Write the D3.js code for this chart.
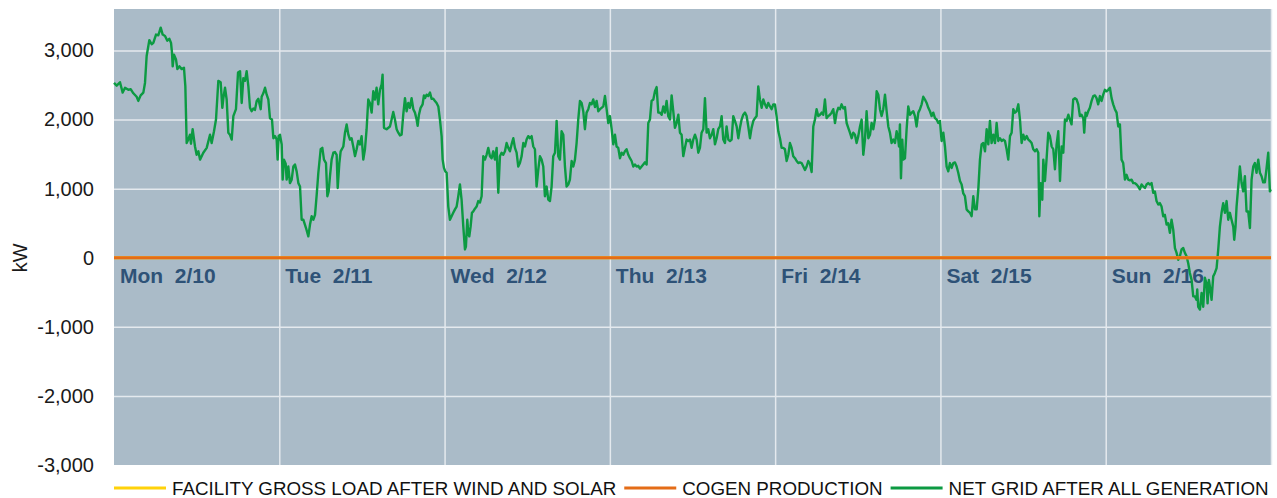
<!DOCTYPE html>
<html>
<head>
<meta charset="utf-8">
<script src="https://d3js.org/d3.v7.min.js"></script>
<style>
  body { margin: 0; background: #fff; }
  svg { display: block; font-family: "Liberation Sans", Arial, sans-serif; }
  .ytick text { font-size: 20px; fill: #1a1a1a; }
  .day-label { font-size: 21px; font-weight: bold; fill: #2e5277; white-space: pre; }
  .legend text { font-size: 18.8px; fill: #111; }
</style>
</head>
<body>
<svg id="chart" width="1277" height="498"></svg>
<script>
// Week of 2/10 - 2/16, hours since Mon 00:00
const dayLabels = ['Mon  2/10', 'Tue  2/11', 'Wed  2/12', 'Thu  2/13', 'Fri  2/14', 'Sat  2/15', 'Sun  2/16'];
const dayStarts = [0, 24, 48, 72, 96, 120, 144, 168];
const yTicks = [-3000, -2000, -1000, 0, 1000, 2000, 3000];
const legendLabels = ['FACILITY GROSS LOAD AFTER WIND AND SOLAR', 'COGEN PRODUCTION', 'NET GRID AFTER ALL GENERATION'];
const seriesColors = ['#ffd20a', '#e46c17', '#0c9a42'];

// facility gross load and cogen both sit on the zero line in this picture
const facilityLoad = [[0, 0], [168, 0]];
const cogen = [[0, 0], [168, 0]];

// net grid after all generation, kW
const netGrid = [
  [0,2530],[0.39,2490],[0.87,2540],[1.26,2390],[1.6,2460],[2.08,2430],[2.42,2440],[2.81,2380],[3.29,2330],[3.53,2270],
  [3.87,2350],[4.26,2390],[4.5,2530],[4.74,2920],[5.13,3150],[5.47,3090],[5.71,3110],[6.1,3230],[6.44,3220],[6.78,3330],
  [7.07,3230],[7.41,3210],[7.74,3140],[8.03,3170],[8.28,3110],[8.42,2970],[8.52,2770],[8.71,2940],[9,2870],[9.2,2730],
  [9.49,2770],[9.83,2730],[10.16,2750],[10.36,2480],[10.55,1660],[10.79,1710],[11.03,1780],[11.18,1650],[11.42,1860],[11.76,1610],
  [12,1490],[12.25,1540],[12.49,1420],[12.97,1520],[13.46,1590],[13.94,1780],[14.18,1660],[14.52,1830],[14.81,2000],[15.15,2560],
  [15.49,2540],[15.73,2170],[15.88,2310],[16.12,2460],[16.36,2290],[16.6,1810],[16.84,1780],[17.09,1710],[17.33,2050],[17.71,2150],
  [18.01,2680],[18.3,2700],[18.54,2240],[18.78,2600],[19.02,2560],[19.26,2700],[19.51,2480],[19.75,2170],[19.99,2120],[20.23,2160],
  [20.47,2140],[20.72,2270],[20.96,2300],[21.3,2150],[21.44,2330],[21.68,2380],[21.93,2460],[22.17,2360],[22.41,2290],[22.65,2020],
  [22.94,2000],[23.14,1730],[23.38,1760],[23.62,1710],[23.76,1420],[23.91,1760],[24.1,1780],[24.35,1640],[24.49,1130],[24.68,1420],
  [24.93,1360],[25.07,1130],[25.31,1320],[25.55,1080],[25.8,1130],[26.04,1320],[26.28,1350],[26.52,1250],[26.77,1080],[27.01,1030],
  [27.25,550],[27.49,550],[27.88,430],[28.22,310],[28.46,480],[28.7,600],[28.94,550],[29.19,620],[29.43,910],[29.67,1230],
  [30.01,1570],[30.25,1590],[30.49,1420],[30.78,1370],[30.98,890],[31.17,960],[31.36,1180],[31.6,1420],[31.85,1520],[32.09,1530],
  [32.33,1490],[32.48,1010],[32.72,1370],[32.91,1540],[33.3,1610],[33.54,1810],[33.78,1930],[34.03,1780],
  [34.26,1710],[34.5,1730],[34.74,1610],[34.99,1470],[35.23,1570],[35.47,1690],[35.71,1640],[35.95,1760],[36.2,1420],[36.44,1570],
  [36.68,1860],[36.92,2290],[37.16,2240],[37.41,2100],[37.65,2410],[37.89,2290],[38.13,2460],[38.37,2220],[38.62,2430],[38.86,2510],
  [39,2650],[39.2,1880],[39.58,1860],[40.07,1900],[40.31,2000],[40.55,2110],[40.79,2000],[41.04,1860],[41.28,1810],[41.52,1770],
  [41.76,1780],[42,2070],[42.25,2310],[42.49,2120],[42.73,2240],[42.97,2170],[43.21,2310],[43.46,2150],[43.7,2100],[43.94,2000],
  [44.09,1910],[44.28,2070],[44.52,2170],[44.81,2220],[45,2350],[45.15,2310],[45.39,2360],[45.63,2340],[45.88,2390],[46.12,2300],
  [46.36,2300],[46.6,2270],[46.84,2240],[47.09,2190],[47.33,2000],[47.57,1760],[47.72,1420],[47.91,1300],[48.1,1250],[48.3,1230],
  [48.54,740],[48.78,550],[49.02,600],[49.26,650],[49.51,700],[49.75,740],[49.99,890],[50.23,1060],[50.47,840],[50.72,450],
  [50.96,120],[51.1,160],[51.3,550],[51.44,360],[51.59,310],[51.78,450],[51.97,650],[52.17,670],[52.41,710],[52.65,740],
  [52.89,820],[53.14,800],[53.38,890],[53.62,1470],[53.86,1420],[54.1,1490],[54.35,1590],[54.59,1470],[54.83,1440],[55.07,1540],
  [55.31,1420],[55.56,1590],[55.8,940],[56.04,1470],[56.28,1520],[56.52,1490],[56.77,1540],[57.01,1660],[57.25,1590],[57.49,1540],
  [57.73,1640],[57.98,1730],[58.22,1590],[58.46,1520],[58.7,1320],[58.94,1370],[59.19,1470],[59.43,1660],[59.67,1610],[59.91,1710],
  [60.15,1760],[60.4,1730],[60.64,1760],[60.88,1610],[61.12,1570],[61.36,1030],[61.61,1280],[61.85,1470],[62.09,1420],[62.33,1320],
  [62.57,890],[62.82,1030],[63.06,840],[63.3,820],[63.54,1030],[63.78,1470],[64.03,1520],[64.27,1980],[64.51,1470],[64.75,1420],
  [64.99,1830],[65.24,1780],[65.48,1320],[65.72,1030],[65.96,1060],[66.2,1130],[66.45,1400],[66.69,1320],[66.93,1420],[67.17,1660],
  [67.41,2000],[67.66,2270],[67.9,2240],[68.14,2120],[68.38,1860],[68.62,2100],[68.87,2150],
  [69.11,2240],[69.35,2220],[69.59,2290],[69.84,2180],[70.08,2270],[70.32,2120],[70.56,2150],[70.8,2170],[71.05,2190],[71.29,2340],
  [71.53,2150],[71.77,1950],[72.01,2050],[72.26,1860],[72.5,1640],[72.74,1780],[72.98,1610],[73.22,1590],[73.47,1440],[73.71,1520],
  [73.95,1490],[74.19,1540],[74.43,1570],[74.68,1490],[74.92,1440],[75.16,1400],[75.4,1320],[75.64,1350],[75.89,1320],[76.13,1330],
  [76.37,1290],[76.61,1320],[76.85,1350],[77.1,1380],[77.34,1350],[77.58,1950],[77.82,2000],[78.06,2270],[78.31,2290],[78.55,2410],
  [78.79,2470],[79.03,2100],[79.27,2100],[79.52,2070],[79.76,2190],[80,2100],[80.24,2270],[80.48,2050],[80.73,2000],[80.97,2350],
  [81.21,2120],[81.45,1880],[81.69,1950],[81.94,2070],[82.18,1810],[82.42,1780],[82.66,1470],[82.9,1590],[83.15,1710],[83.39,1690],
  [83.63,1710],[83.87,1590],[84.11,1710],[84.36,1780],[84.6,1710],[84.84,1520],[85.08,1590],[85.32,1810],[85.57,1860],[85.81,2310],
  [86.05,1810],[86.29,1860],[86.53,1730],[86.78,1780],[87.02,1860],[87.26,1640],[87.5,1730],[87.74,1860],[87.99,1900],[88.23,2050],
  [88.47,1710],[88.71,1660],[88.95,1900],[89.2,1710],[89.44,1690],[89.68,1710],[89.92,2050],[90.16,1980],[90.41,1900],[90.65,1730],
  [90.89,1880],[91.13,2000],[91.37,2070],[91.62,2100],[91.86,2050],[92.1,1900],[92.34,1730],[92.58,1880],[92.83,1980],[93.07,2020],
  [93.31,2050],[93.55,2480],[93.79,2290],[94.04,2170],[94.28,2290],[94.52,2220],[94.76,2170],[95,2240],[95.25,2190],[95.49,2150],
  [95.73,2220],[95.97,2220],[96.21,2050],[96.46,1830],[96.7,1730],[96.94,1590],[97.18,1590],[97.42,1570],[97.67,1400],[97.91,1490],
  [98.15,1660],[98.39,1590],[98.63,1470],[98.88,1440],[99.12,1400],[99.36,1370],[99.6,1380],[99.84,1370],[100.09,1320],[100.33,1270],
  [100.57,1320],[100.81,1400],[101.05,1360],[101.3,1240],[101.54,1900],[101.78,2000],[102.02,2150],[102.26,2050],[102.51,2070],[102.75,2100],
  [102.99,2070],[103.23,2290],[103.47,2020],[103.72,2050],
  [103.96,2070],[104.2,2100],[104.44,2150],[104.69,1950],[104.93,2100],[105.17,2170],[105.41,2150],[105.65,2220],[105.9,2160],[106.14,2180],
  [106.38,1950],[106.62,1880],[106.86,1810],[107.11,1730],[107.35,1810],[107.59,1780],[107.83,1660],[108.07,1760],[108.32,1900],[108.56,2000],
  [108.8,1490],[109.04,1710],[109.28,2120],[109.53,1730],[109.77,1780],[110.01,1950],[110.25,1860],[110.49,2000],[110.74,2410],[110.98,2360],
  [111.22,2150],[111.46,2050],[111.7,2150],[111.95,2360],[112.19,2120],[112.43,1900],[112.67,1810],[112.91,1660],[113.16,1710],[113.4,1660],
  [113.64,1830],[113.88,1710],[113.98,1610],[114.12,1930],[114.27,1150],[114.46,1710],[114.61,1420],[114.85,1440],[115.09,1860],[115.33,2190],
  [115.58,2070],[115.82,2100],[116.06,2120],[116.3,2050],[116.54,1900],[116.79,2100],[117.03,2150],[117.27,2220],[117.51,2330],[117.75,2290],
  [118,2240],[118.24,2170],[118.48,2120],[118.72,2050],[118.96,2100],[119.21,2020],[119.45,2000],[119.69,1950],[119.93,1980],[120.17,1690],
  [120.42,1810],[120.66,1610],[120.9,1320],[121.14,1250],[121.38,1370],[121.63,1300],[121.87,1370],[122.11,1380],[122.35,1320],[122.59,1230],
  [122.84,1110],[123.08,1060],[123.32,930],[123.56,890],[123.8,700],[124.05,670],[124.29,650],[124.53,600],[124.77,890],[125.01,700],
  [125.26,700],[125.5,990],[125.74,1420],[125.98,1640],[126.22,1660],[126.47,1540],[126.71,1860],[126.95,1640],[127.19,1980],[127.43,1660],
  [127.68,1780],[127.92,1660],[128.16,1950],[128.4,1690],[128.64,1730],[128.89,1690],[129.13,1710],[129.37,1690],[129.61,1570],[129.85,1420],
  [130.1,1760],[130.34,1810],[130.58,2150],[130.82,2100],[131.06,2120],[131.31,2220],[131.55,2000],[131.79,1660],[132.03,1780],[132.27,1710],
  [132.52,1760],[132.76,1710],[133,1690],[133.24,1660],[133.48,1570],[133.73,1540],[133.97,1570],[134.21,1520],[134.36,600],[134.55,1080],
  [134.79,840],[134.94,1420],[135.18,1110],[135.42,1440],[135.66,1810],[135.9,1760],[136.15,1610],[136.39,1570],[136.63,1280],[136.87,1640],
  [137.11,1830],[137.36,1110],[137.6,1610],[137.84,1520],[138.08,2000],[138.32,1980],[138.57,2070],
  [138.8,2000],[139.04,1930],[139.28,2290],[139.53,2310],[139.77,2290],[140.01,2220],[140.25,2050],[140.49,2070],[140.74,2020],[140.88,1810],
  [141.07,2100],[141.22,2050],[141.46,2120],[141.7,2170],[141.95,2270],[142.19,2340],[142.43,2350],[142.67,2310],[142.91,2220],[143.16,2340],
  [143.4,2270],[143.64,2360],[143.88,2430],[144.12,2410],[144.37,2430],[144.61,2460],[144.85,2310],[145.09,2220],[145.33,2150],[145.58,2100],
  [145.82,1900],[146.06,1930],[146.3,1420],[146.54,1370],[146.79,1130],[147.03,1200],[147.27,1130],[147.51,1120],[147.75,1130],[148,1080],
  [148.24,1080],[148.48,1060],[148.72,1030],[148.96,990],[149.21,1060],[149.45,1030],[149.69,1010],[149.93,1060],[150.17,1080],[150.42,1060],
  [150.66,1080],[150.9,940],[151.14,960],[151.38,820],[151.63,770],[151.87,790],[152.11,740],[152.35,600],[152.59,620],[152.84,480],
  [153.08,500],[153.32,360],[153.56,550],[153.8,410],[154.05,140],[154.29,70],[154.53,-30],[154.77,20],[155.01,120],[155.26,140],
  [155.5,70],[155.74,20],[155.98,-80],[156.22,-220],[156.47,-320],[156.71,-560],[156.95,-560],[157.19,-610],[157.29,-460],[157.43,-710],
  [157.68,-750],[157.92,-510],[158.16,-710],[158.4,-290],[158.64,-370],[158.79,-660],[158.98,-320],[159.13,-420],[159.37,-610],[159.61,-270],
  [159.85,-220],[160.1,-150],[160.34,120],[160.58,450],[160.82,650],[161.06,790],[161.31,650],[161.55,820],[161.79,550],[162.03,650],
  [162.27,550],[162.52,450],[162.66,260],[162.85,450],[163,740],[163.24,1030],[163.48,1320],[163.73,1080],[163.97,960],[164.21,1180],
  [164.45,670],[164.69,670],[164.94,430],[165.18,1130],[165.42,1320],[165.66,1370],[165.9,1230],[166.15,1420],[166.39,1230],[166.63,1180],
  [166.87,1090],[167.11,1090],[167.36,1300],[167.6,1520],[167.84,960],[167.99,990]
];

const margin = { top: 9, right: 6, bottom: 33, left: 114 };
const W = 1277, H = 498;
const w = W - margin.left - margin.right;
const h = H - margin.top - margin.bottom;

const svg = d3.select('#chart');
const g = svg.append('g').attr('transform', `translate(${margin.left},${margin.top})`);

const x = d3.scaleLinear().domain([0, 168]).range([0, w]);
const y = d3.scaleLinear().domain([-3000, 3600]).range([h, 0]);

// plain hyphen minus like the original, not the unicode one d3 uses
const fmt = d => d3.format(',')(d).replace('\u2212', '-');

// plot background
g.append('rect').attr('width', w).attr('height', h).attr('fill', '#aabbc8');

// horizontal grid
g.append('g')
  .attr('class', 'grid')
  .call(d3.axisLeft(y).tickValues(yTicks.filter(d => d > -3000)).tickSize(-w).tickFormat(''))
  .call(s => s.select('.domain').remove())
  .call(s => s.selectAll('line').attr('stroke', '#e4e9ee').attr('stroke-width', 1.5));

// vertical day grid
g.append('g')
  .attr('class', 'grid')
  .attr('transform', `translate(0,${h})`)
  .call(d3.axisBottom(x).tickValues(dayStarts.slice(1)).tickSize(-h).tickFormat(''))
  .call(s => s.select('.domain').remove())
  .call(s => s.selectAll('line').attr('stroke', '#e4e9ee').attr('stroke-width', 1.5));

// y labels
g.append('g')
  .attr('class', 'ytick')
  .call(d3.axisLeft(y).tickValues(yTicks).tickSize(0).tickPadding(20).tickFormat(fmt))
  .call(s => s.select('.domain').remove());

// axis title
svg.append('text')
  .attr('transform', `translate(27,${margin.top + y(0)}) rotate(-90)`)
  .attr('text-anchor', 'middle')
  .attr('font-size', 20)
  .attr('fill', '#1a1a1a')
  .text('kW');

const line = d3.line().x(d => x(d[0])).y(d => y(d[1]));

// day labels under the zero line
g.append('g')
  .selectAll('text')
  .data(dayLabels)
  .enter().append('text')
  .attr('class', 'day-label')
  .attr('x', (d, i) => x(dayStarts[i]) + 6)
  .attr('y', y(0) + 25.5)
  .text(d => d);

g.append('path')
  .datum(netGrid)
  .attr('fill', 'none')
  .attr('stroke', seriesColors[2])
  .attr('stroke-width', 2.4)
  .attr('stroke-linejoin', 'round')
  .attr('d', line);

// zero-valued series drawn on top, like the original
[facilityLoad, cogen].forEach((data, i) => {
  g.append('path')
    .datum(data)
    .attr('fill', 'none')
    .attr('stroke', seriesColors[i])
    .attr('stroke-width', 3)
    .attr('d', line);
});

// legend
const legend = svg.append('g').attr('class', 'legend').attr('transform', `translate(${margin.left},488)`);
let lx = 0;
legendLabels.forEach((label, i) => {
  legend.append('line')
    .attr('x1', lx).attr('x2', lx + 52)
    .attr('stroke', seriesColors[i]).attr('stroke-width', 3);
  const t = legend.append('text')
    .attr('x', lx + 58)
    .attr('dy', '0.36em')
    .text(label);
  lx += 58 + t.node().getComputedTextLength() + 8;
});
</script>
</body>
</html>
